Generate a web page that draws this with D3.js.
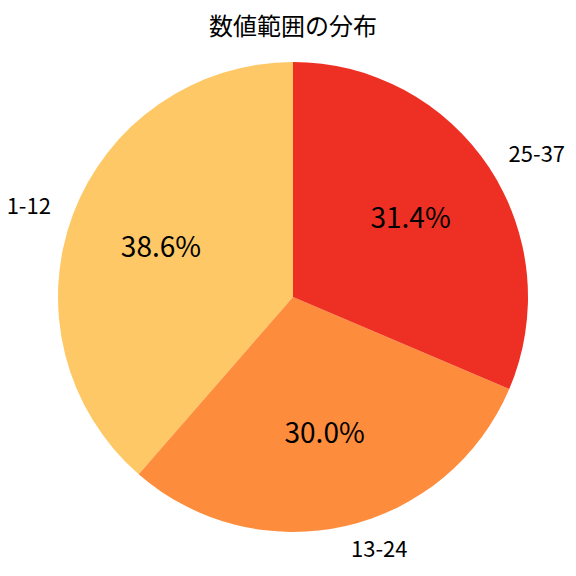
<!DOCTYPE html>
<html lang="ja">
<head>
<meta charset="UTF-8" />
<title>数値範囲の分布</title>
<script src="https://d3js.org/d3.v7.min.js"></script>
<style>
  body { margin: 0; background: #fff; }
  svg { display: block; font-family: "Noto Sans CJK JP", "Noto Sans", sans-serif; }
</style>
</head>
<body>
<svg id="chart"></svg>
<script>
const categories = ["1-12", "13-24", "25-37"];
const shares = [38.6, 30.0, 31.4];
const colors = ["#fdc865", "#fd8c3c", "#ee3024"];

const width = 576, height = 576;
const cx = 293, cy = 297, radius = 235;

const svg = d3.select("#chart").attr("width", width).attr("height", height);

svg.append("text")
  .attr("x", cx)
  .attr("y", 35)
  .attr("text-anchor", "middle")
  .attr("font-size", 24)
  .attr("font-weight", 400)
  .text("数値範囲の分布");

const data = categories.map((c, i) => ({ label: c, value: shares[i], color: colors[i] }));

// counter-clockwise from 12 o'clock
const pie = d3.pie().value(d => d.value).sort(null)
  .startAngle(0).endAngle(-2 * Math.PI);

const arcs = pie(data);
const arc = d3.arc().innerRadius(0).outerRadius(radius);

const g = svg.append("g").attr("transform", `translate(${cx},${cy})`);

g.selectAll("path")
  .data(arcs)
  .enter().append("path")
  .attr("d", arc)
  .attr("fill", d => d.data.color);

function pos(d, k) {
  const a = (d.startAngle + d.endAngle) / 2;
  return [Math.sin(a) * radius * k, -Math.cos(a) * radius * k];
}

g.selectAll("text.pct")
  .data(arcs)
  .enter().append("text")
  .attr("class", "pct")
  .attr("x", d => pos(d, 0.6)[0])
  .attr("y", d => pos(d, 0.6)[1] - 3)
  .attr("text-anchor", "middle")
  .attr("dominant-baseline", "central")
  .attr("font-size", 28)
  .text(d => d.data.value.toFixed(1) + "%");

g.selectAll("text.lab")
  .data(arcs)
  .enter().append("text")
  .attr("class", "lab")
  .attr("x", d => pos(d, 1.1)[0])
  .attr("y", d => pos(d, 1.1)[1] - 2)
  .attr("text-anchor", d => pos(d, 1.1)[0] < 0 ? "end" : "start")
  .attr("dominant-baseline", "central")
  .attr("font-size", 22)
  .text(d => d.data.label);
</script>
</body>
</html>
